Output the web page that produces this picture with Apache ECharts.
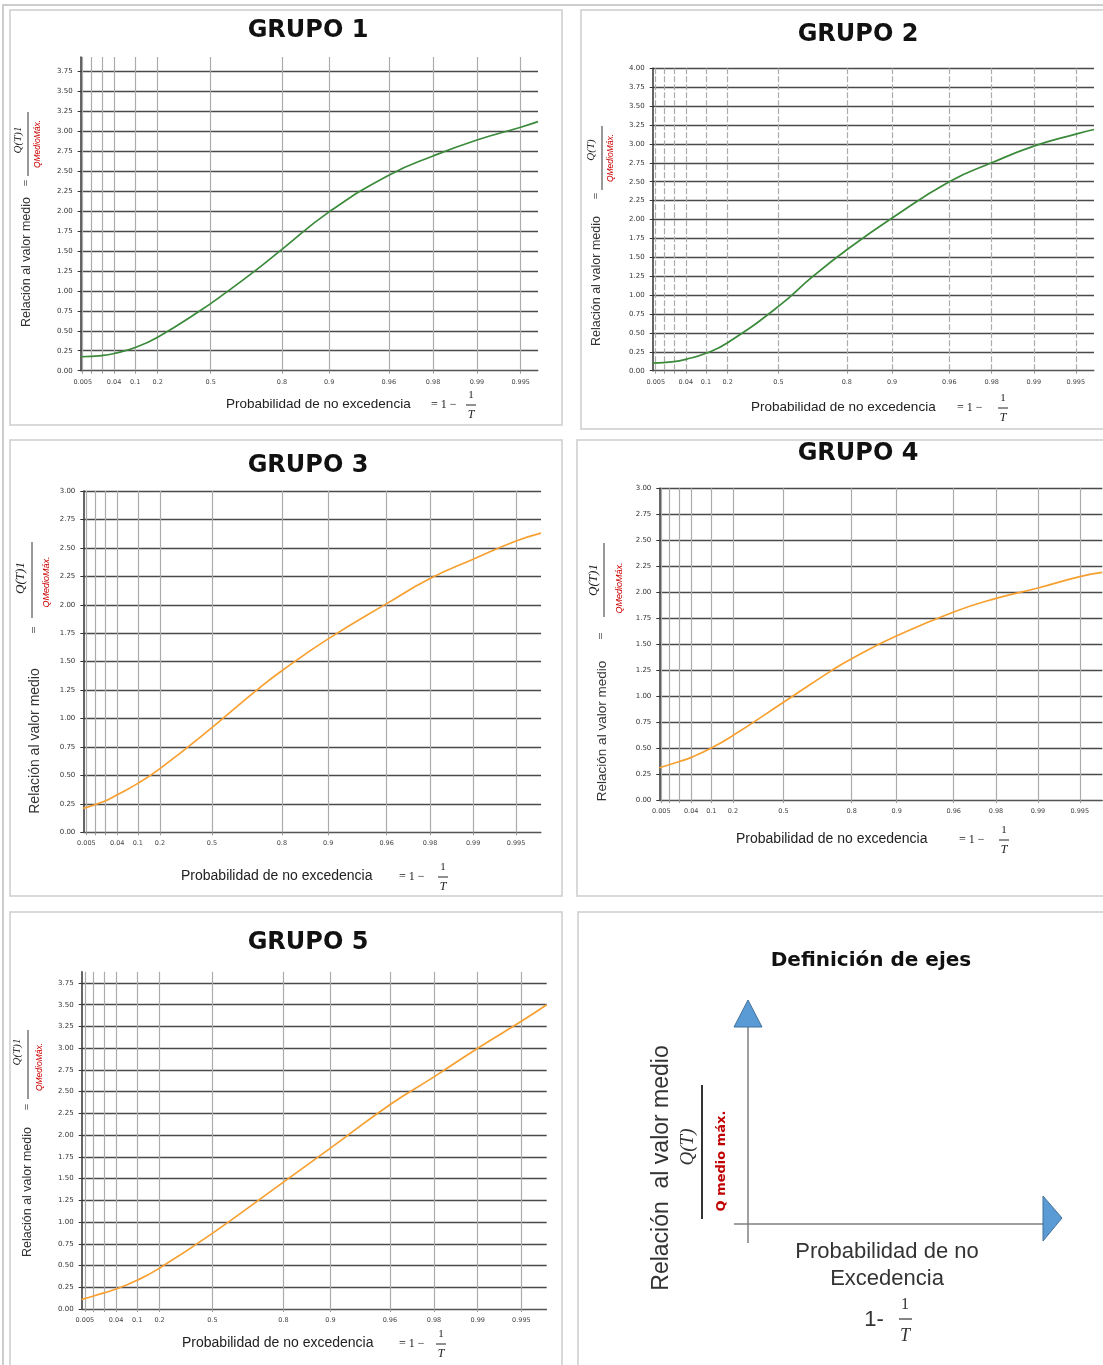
<!DOCTYPE html>
<html><head><meta charset="utf-8">
<script src="https://cdn.jsdelivr.net/npm/echarts@6/dist/echarts.min.js"></script>
<style>html,body{margin:0;padding:0;background:#fff}#c{width:1103px;height:1365px}</style>
</head><body><div id="c"></div>
<script>
// ---------- DATA ----------
// Non-exceedance probability ticks (Gumbel probability paper)
const gridProbs  = [0.005, 0.01, 0.02, 0.04, 0.1, 0.2, 0.5, 0.8, 0.9, 0.96, 0.98, 0.99, 0.995];
const labelProbs = [0.005, 0.04, 0.1, 0.2, 0.5, 0.8, 0.9, 0.96, 0.98, 0.99, 0.995];
const labelTexts = ['0.005','0.04','0.1','0.2','0.5','0.8','0.9','0.96','0.98','0.99','0.995'];

const yTicks1 = [0,0.25,0.5,0.75,1,1.25,1.5,1.75,2,2.25,2.5,2.75,3,3.25,3.5,3.75];
const yTicks2 = [0,0.25,0.5,0.75,1,1.25,1.5,1.75,2,2.25,2.5,2.75,3,3.25,3.5,3.75,4];
const yTicks3 = [0,0.25,0.5,0.75,1,1.25,1.5,1.75,2,2.25,2.5,2.75,3];
const yTicks4 = [0,0.25,0.5,0.75,1,1.25,1.5,1.75,2,2.25,2.5,2.75,3];
const yTicks5 = [0,0.25,0.5,0.75,1,1.25,1.5,1.75,2,2.25,2.5,2.75,3,3.25,3.5,3.75];

// Grupo 1
const g1Prob = [0.0042,0.02,0.04,0.1,0.2,0.44,0.592,0.71,0.8,0.9,0.96,0.98,0.99,0.995,0.9962];
const g1Val  = [0.175,0.19,0.215,0.29,0.42,0.75,1.0,1.25,1.52,1.99,2.45,2.69,2.89,3.05,3.12];
// Grupo 2
const g2Prob = [0.0038,0.02,0.04,0.1,0.2,0.5,0.677,0.8,0.9,0.96,0.98,0.99,0.995,0.9963];
const g2Val  = [0.10,0.12,0.15,0.23,0.37,0.85,1.25,1.60,2.02,2.50,2.75,2.97,3.13,3.19];
// Grupo 3
const g3Prob = [0.0038,0.02,0.04,0.1,0.2,0.5,0.715,0.8,0.9,0.96,0.98,0.99,0.995,0.99666];
const g3Val  = [0.21,0.275,0.33,0.43,0.56,0.92,1.25,1.42,1.70,2.01,2.23,2.40,2.56,2.63];
// Grupo 4
const g4Prob = [0.0042,0.02,0.04,0.1,0.2,0.5,0.735,0.8,0.9,0.96,0.98,0.99,0.995,0.99656];
const g4Val  = [0.31,0.37,0.41,0.50,0.62,0.94,1.25,1.36,1.58,1.81,1.94,2.04,2.15,2.19];
// Grupo 5
const g5Prob = [0.0038,0.01,0.04,0.1,0.2,0.5,0.8,0.9,0.96,0.98,0.99,0.995,0.99666];
const g5Val  = [0.11,0.15,0.23,0.33,0.47,0.87,1.46,1.85,2.35,2.67,3.0,3.31,3.5];

// ---------- helpers ----------
const gum = p => -Math.log(-Math.log(p));   // Gumbel reduced variate (probability-paper scale)
const labelG = labelProbs.map(gum);
function labelFor(v){ let b=0; for(let k=1;k<labelG.length;k++){ if(Math.abs(labelG[k]-v)<Math.abs(labelG[b]-v)) b=k; } return labelTexts[b]; }

const panels = [
  {L:80.7, R:538,   T:57,    B:370.7, pMin:0.0042, pMax:0.9962,  yMax:3.93, ticks:yTicks1, prob:g1Prob, val:g1Val, color:'#3a8a3a', dash:false},
  {L:652.7,R:1094,  T:68.3,  B:370.7, pMin:0.0038, pMax:0.9963,  yMax:4,    ticks:yTicks2, prob:g2Prob, val:g2Val, color:'#3a8a3a', dash:true},
  {L:83.3, R:541,   T:491,   B:832.3, pMin:0.0038, pMax:0.99666, yMax:3,    ticks:yTicks3, prob:g3Prob, val:g3Val, color:'#f7a030', dash:false},
  {L:659.3,R:1102.3,T:488.3, B:800,   pMin:0.0042, pMax:0.99656, yMax:3,    ticks:yTicks4, prob:g4Prob, val:g4Val, color:'#f7a030', dash:false},
  {L:81.7, R:546.7, T:971.7, B:1309,  pMin:0.0038, pMax:0.99666, yMax:3.88, ticks:yTicks5, prob:g5Prob, val:g5Val, color:'#f7a030', dash:false}
];

const grids=[], xAxes=[], yAxes=[], series=[];
panels.forEach((p,i)=>{
  grids.push({left:p.L, top:p.T, width:p.R-p.L, height:p.B-p.T, containLabel:false});
  xAxes.push({
    type:'value', gridIndex:i, min:gum(p.pMin), max:gum(p.pMax),
    axisLine:{show:true,onZero:false,lineStyle:{color:'#555',width:1}},
    axisTick:{show:true,length:3,customValues:gridProbs.map(gum),lineStyle:{color:'#999'}},
    axisLabel:{show:true,customValues:labelG,formatter:labelFor,fontSize:6.5,color:'#444',margin:8,fontFamily:'DejaVu Sans',hideOverlap:false},
    splitLine:{show:true,lineStyle:{color:'#ababab',width:1.2,type:p.dash?[6,2]:'solid'}}
  });
  yAxes.push({
    type:'value', gridIndex:i, min:0, max:p.yMax,
    axisLine:{show:true,onZero:false,lineStyle:{color:'#333',width:1.5}},
    axisTick:{show:true,length:3,customValues:p.ticks,lineStyle:{color:'#333'}},
    axisLabel:{show:true,customValues:p.ticks,formatter:v=>v.toFixed(2),fontSize:7,color:'#333',margin:8,fontFamily:'DejaVu Sans'},
    splitLine:{show:true,lineStyle:{color:'#4a4a4a',width:1.3}}
  });
  series.push({
    type:'line', xAxisIndex:i, yAxisIndex:i, showSymbol:false, smooth:0.5,
    data:p.prob.map((pr,k)=>[gum(pr), p.val[k]]),
    lineStyle:{color:p.color,width:1.7}, z:5, silent:true
  });
});

// ---------- annotation graphics ----------
const G=[];
function txt(x,y,text,font,o){ o=o||{}; return {type:'text',x:x,y:y,rotation:o.rot||0,z:100,silent:true,
  style:{text:text,font:font,fill:o.fill||'#222',align:o.align||'center',verticalAlign:o.valign||'middle',textAlign:o.align||'center',textVerticalAlign:o.valign||'middle'}}; }
function ln(x1,y1,x2,y2,stroke,w){ return {type:'line',z:100,silent:true,shape:{x1:x1,y1:y1,x2:x2,y2:y2},style:{stroke:stroke,lineWidth:w}}; }
function box(x,y,w,h){ return {type:'rect',z:0,silent:true,shape:{x:x,y:y,width:w,height:h},style:{fill:'none',stroke:'#cdcdcd',lineWidth:1.5}}; }
const R90 = Math.PI/2;
const SANS = '"Liberation Sans", Arial, sans-serif';
const SERIF = '"Liberation Serif", "DejaVu Serif", serif';

// outer frame and panel boxes
G.push({type:'rect',z:0,silent:true,shape:{x:3,y:5,width:1110,height:1370},style:{fill:'none',stroke:'#bdbdbd',lineWidth:1.5}});
G.push(box(10,10,552,415), box(581,10,530,419), box(10,440,552,456), box(577,440,540,456), box(10,912,552,460), box(578,912,540,460));

function annot(a){
  G.push(txt(a.tx,a.ty,a.title,'bold 24px "DejaVu Sans", sans-serif',{fill:'#111'}));
  G.push(txt(a.nx,a.nyc,'Relación al valor medio',a.ns+'px '+SANS,{rot:R90,fill:'#333'}));
  G.push(txt(a.nx,a.eqy,'=',(a.ns-1)+'px '+SERIF,{rot:R90,fill:'#333'}));
  G.push(txt(a.qx,a.qy,a.qt,'italic '+a.qs+'px '+SERIF,{rot:R90,fill:'#222'}));
  G.push(ln(a.bx,a.by1,a.bx,a.by2,'#333',1));
  G.push(txt(a.rx,a.ry,'QMedioMáx.','italic '+a.rs+'px '+SANS,{rot:R90,fill:'#cc0000'}));
  G.push(txt(a.xx,a.xy,'Probabilidad de no excedencia',a.xs+'px '+SANS,{align:'left',fill:'#222'}));
  G.push(txt(a.ex,a.xy+1,'= 1 −','12px '+SERIF,{align:'left',fill:'#222'}));
  G.push(txt(a.fx,a.xy-9,'1','11px '+SERIF,{fill:'#222'}));
  G.push(ln(a.fx-5,a.xy+1,a.fx+5,a.xy+1,'#222',1));
  G.push(txt(a.fx,a.xy+11,'T','italic 12px '+SERIF,{fill:'#222'}));
}
annot({tx:308,ty:31,title:'GRUPO 1', nx:27,nyc:262,ns:12.5,eqy:183, qx:18,qy:140,qt:'Q(T)1',qs:11, bx:28,by1:112,by2:176, rx:38,ry:144,rs:8.5,
       xx:226,xy:404,xs:13.5, ex:431, fx:471});
annot({tx:858,ty:35,title:'GRUPO 2', nx:597,nyc:281,ns:12.5,eqy:196, qx:591,qy:150,qt:'Q(T)',qs:11, bx:602,by1:126,by2:190, rx:611,ry:158,rs:8.5,
       xx:751,xy:407,xs:13.5, ex:957, fx:1003});
annot({tx:308,ty:466,title:'GRUPO 3', nx:35,nyc:741,ns:14,eqy:630, qx:21,qy:578,qt:'Q(T)1',qs:13, bx:32,by1:542,by2:618, rx:46,ry:582,rs:9,
       xx:181,xy:876,xs:14, ex:399, fx:443});
annot({tx:858,ty:454,title:'GRUPO 4', nx:602,nyc:731,ns:13.5,eqy:636, qx:594,qy:580,qt:'Q(T)1',qs:13, bx:604,by1:543,by2:617, rx:619,ry:588,rs:9,
       xx:736,xy:839,xs:14, ex:959, fx:1004});
annot({tx:308,ty:943,title:'GRUPO 5', nx:28,nyc:1192,ns:12.5,eqy:1107, qx:17,qy:1052,qt:'Q(T)1',qs:11, bx:28,by1:1030,by2:1099, rx:40,ry:1067,rs:8.5,
       xx:182,xy:1343,xs:14, ex:399, fx:441});

// Definición de ejes panel
G.push(txt(871,961,'Definición de ejes','bold 20px "DejaVu Sans", sans-serif',{fill:'#111'}));
G.push(ln(748,1026,748,1243,'#7f7f7f',1.5));
G.push(ln(734,1224,1043,1224,'#7f7f7f',1.5));
G.push({type:'polygon',z:100,silent:true,shape:{points:[[734,1027],[762,1027],[748,1000]]},style:{fill:'#5b9bd5',stroke:'#41719c',lineWidth:1}});
G.push({type:'polygon',z:100,silent:true,shape:{points:[[1043,1196],[1043,1241],[1062,1218]]},style:{fill:'#5b9bd5',stroke:'#41719c',lineWidth:1}});
G.push(txt(662,1168,'Relación  al valor medio','23px '+SANS,{rot:R90,fill:'#333'}));
G.push(ln(702,1085,702,1219,'#333',2));
G.push(txt(688,1147,'Q(T)','italic 19px '+SERIF,{rot:R90,fill:'#333'}));
G.push(txt(722,1161,'Q medio máx.','bold 13px "DejaVu Sans", sans-serif',{rot:R90,fill:'#c00000'}));
G.push(txt(887,1252,'Probabilidad de no','22px '+SANS,{fill:'#333'}));
G.push(txt(887,1279,'Excedencia','22px '+SANS,{fill:'#333'}));
G.push(txt(874,1320,'1-','22px '+SANS,{fill:'#333'}));
G.push(txt(905,1305,'1','16px '+SERIF,{fill:'#333'}));
G.push(ln(899,1319,912,1319,'#333',1.2));
G.push(txt(905,1336,'T','italic 18px '+SERIF,{fill:'#333'}));

const chart = echarts.init(document.getElementById('c'), null, {renderer:'canvas'});
chart.setOption({
  animation:false, backgroundColor:'#fff',
  grid:grids, xAxis:xAxes, yAxis:yAxes, series:series, graphic:{elements:G}
});
</script></body></html>
